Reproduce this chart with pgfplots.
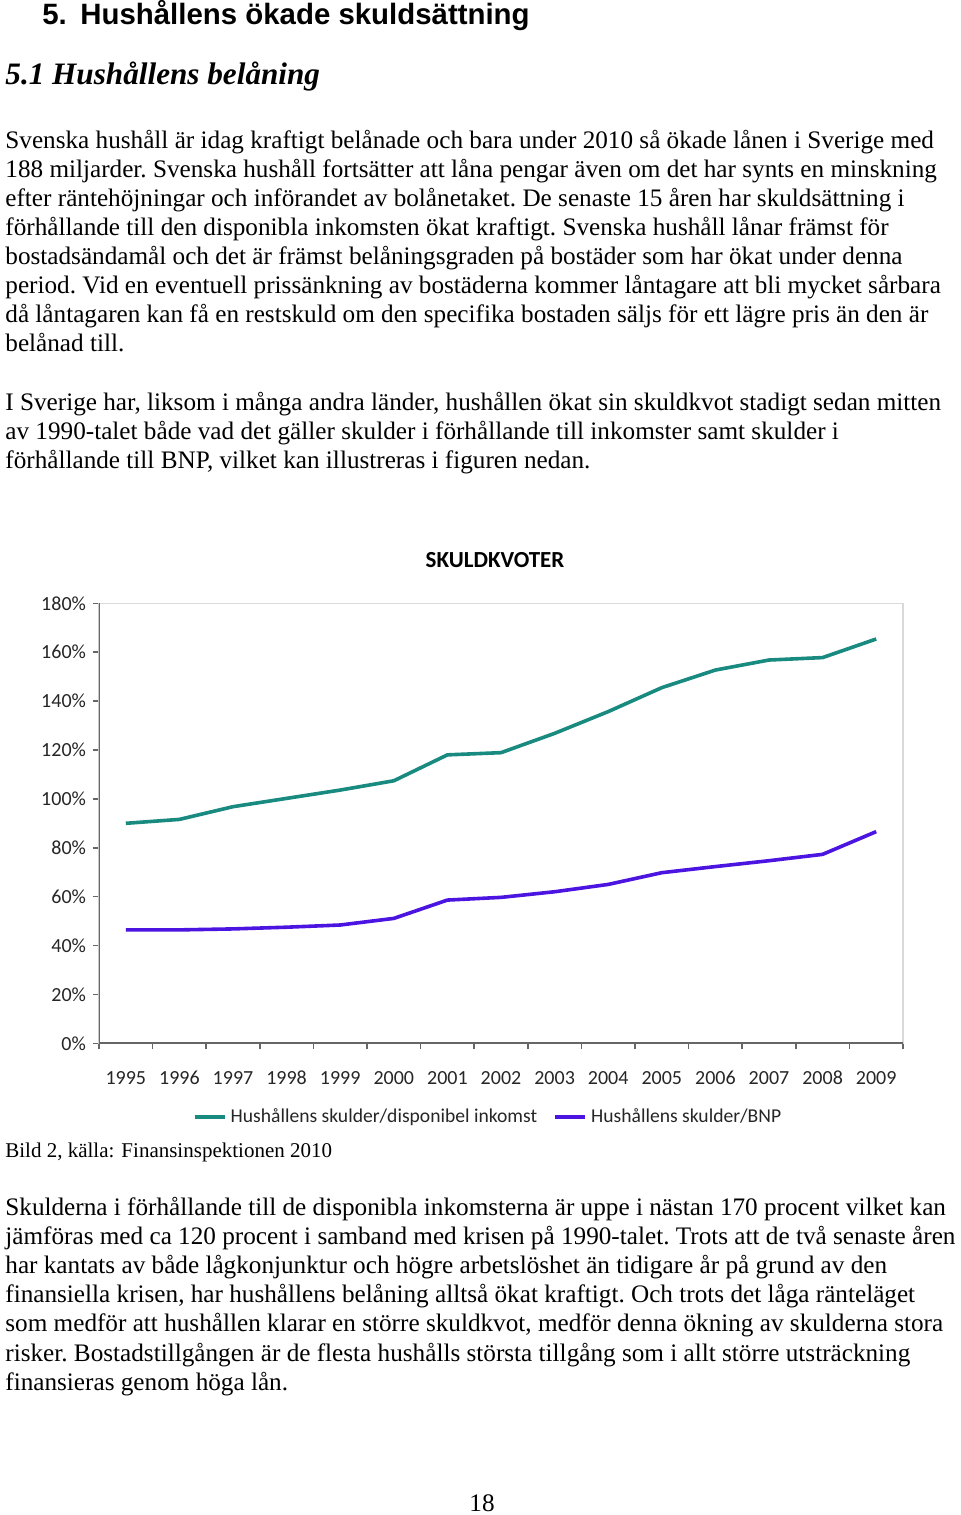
\documentclass[border=0pt]{standalone}
\usepackage{fontspec}
\setmainfont{Liberation Serif}
\newfontfamily\arial{Liberation Sans}
\newfontfamily\calibri{Carlito}
\usepackage{pgfplots}
\pgfplotsset{compat=1.18}
\definecolor{tealline}{RGB}{24,138,128}
\definecolor{purpleline}{RGB}{75,20,225}
\newcommand\body{\fontsize{12.6}{14}\selectfont\frenchspacing}
\begin{document}
\begin{tikzpicture}[x=0.5pt,y=-0.5pt]
\useasboundingbox[fill=white] (0,0) rectangle (960,1515);
% headings
\node[anchor=base west,inner sep=0] at (42,25) {\arial\bfseries\fontsize{14.7}{16}\selectfont 5.};
\node[anchor=base west,inner sep=0] at (80,25) {\arial\bfseries\fontsize{14.7}{16}\selectfont Hushållens ökade skuldsättning};
\node[anchor=base west,inner sep=0] at (5,84) {\bfseries\itshape\fontsize{15.6}{17}\selectfont 5.1 Hushållens belåning};
% paragraph 1
\begin{scope}[every node/.style={anchor=base west,inner sep=0,font=\body}]
\node at (5,148) {Svenska hushåll är idag kraftigt belånade och bara under 2010 så ökade lånen i Sverige med};
\node at (5,177) {188 miljarder. Svenska hushåll fortsätter att låna pengar även om det har synts en minskning};
\node at (5,206) {efter räntehöjningar och införandet av bolånetaket. De senaste 15 åren har skuldsättning i};
\node at (5,235) {förhållande till den disponibla inkomsten ökat kraftigt. Svenska hushåll lånar främst för};
\node at (5,264) {bostadsändamål och det är främst belåningsgraden på bostäder som har ökat under denna};
\node at (5,293) {period. Vid en eventuell prissänkning av bostäderna kommer låntagare att bli mycket sårbara};
\node at (5,322) {då låntagaren kan få en restskuld om den specifika bostaden säljs för ett lägre pris än den är};
\node at (5,351) {belånad till.};
% paragraph 2
\node at (5,410) {I Sverige har, liksom i många andra länder, hushållen ökat sin skuldkvot stadigt sedan mitten};
\node at (5,439) {av 1990-talet både vad det gäller skulder i förhållande till inkomster samt skulder i};
\node at (5,468) {förhållande till BNP, vilket kan illustreras i figuren nedan.};
% paragraph 3
\node at (5,1215) {Skulderna i förhållande till de disponibla inkomsterna är uppe i nästan 170 procent vilket kan};
\node at (5,1244) {jämföras med ca 120 procent i samband med krisen på 1990-talet. Trots att de två senaste åren};
\node at (5,1273) {har kantats av både lågkonjunktur och högre arbetslöshet än tidigare år på grund av den};
\node at (5,1302) {finansiella krisen, har hushållens belåning alltså ökat kraftigt. Och trots det låga ränteläget};
\node at (5,1331) {som medför att hushållen klarar en större skuldkvot, medför denna ökning av skulderna stora};
\node at (5,1361) {risker. Bostadstillgången är de flesta hushålls största tillgång som i allt större utsträckning};
\node at (5,1390) {finansieras genom höga lån.};
\end{scope}
\node[anchor=base west,inner sep=0] at (5,1157) {\fontsize{10.5}{12}\selectfont Bild 2, källa: Finansinspektionen 2010};
\node[anchor=base,inner sep=0] at (482,1511) {\body 18};
% chart title
\node[anchor=center,inner sep=0] at (495,560) {\calibri\bfseries\fontsize{11.5}{13}\selectfont SKULDKVOTER};
\begin{axis}[
  at={(49.5pt,-521.65pt)}, anchor=south west,
  scale only axis, width=402pt, height=220pt,
  xmin=-0.5, xmax=14.5, ymin=0, ymax=180,
  xtick={0,...,14},
  xticklabels={1995,1996,1997,1998,1999,2000,2001,2002,2003,2004,2005,2006,2007,2008,2009},
  minor xtick={-0.5,0.5,...,14.5},
  ytick={0,20,...,180},
  yticklabel={\pgfmathprintnumber{\tick}\%},
  /pgf/number format/assume math mode=true,
  tick align=outside,
  xtick style={draw=none},
  minor x tick style={draw=black!60, line width=0.8pt},
  minor tick length=3pt,
  ytick style={draw=black!60, line width=0.8pt},
  major tick length=3pt,
  xtick pos=bottom, ytick pos=left,
  ticklabel style={font=\calibri\fontsize{10}{12}\selectfont, text=black!85},
  xticklabel style={yshift=-7pt, text height=7pt, text depth=0pt},
  axis line style={draw=black!15, line width=0.7pt},
  legend style={at={(0.485,-0.168)}, anchor=center, draw=none, fill=none,
    legend columns=2, font=\calibri\fontsize{9.8}{12}\selectfont, text=black!85,
    /tikz/every even column/.append style={column sep=6pt}},
  legend image code/.code={\draw[#1,line width=2pt] (0pt,0pt) -- (15pt,0pt);},
]
\addplot[tealline, line width=1.8pt] coordinates {
(0,90) (1,91.6) (2,96.8) (3,100.2) (4,103.6) (5,107.4) (6,118) (7,118.9) (8,126.8) (9,135.7) (10,145.5) (11,152.7) (12,156.8) (13,157.8) (14,165.4)};
\addlegendentry{Hushållens skulder/disponibel inkomst}
\addplot[purpleline, line width=1.8pt] coordinates {
(0,46.4) (1,46.4) (2,46.8) (3,47.5) (4,48.4) (5,51.1) (6,58.6) (7,59.7) (8,62) (9,65) (10,69.8) (11,72.3) (12,74.7) (13,77.3) (14,86.6)};
\addlegendentry{Hushållens skulder/BNP}
\draw[black!60, line width=1pt] (rel axis cs:0,1) -- (rel axis cs:0,0) -- (rel axis cs:1,0);
\end{axis}
\end{tikzpicture}
\end{document}
